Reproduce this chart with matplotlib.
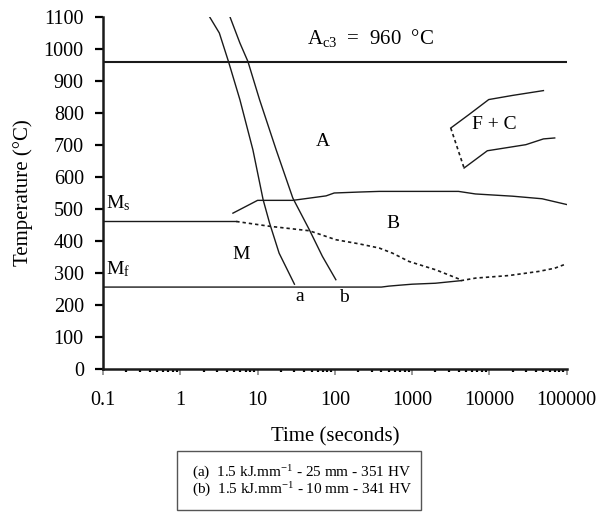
import numpy as np
import matplotlib.pyplot as plt
from matplotlib.patches import Rectangle
from matplotlib.ticker import FixedLocator, LogLocator, NullFormatter

plt.rcParams['font.family'] = ['Liberation Serif', 'DejaVu Serif']
plt.rcParams['mathtext.fontset'] = 'custom'
plt.rcParams['mathtext.rm'] = 'Liberation Serif'
plt.rcParams['mathtext.it'] = 'Liberation Serif:italic'

# cooling curves
a_t = [2.4, 3.2, 4.2, 5.9, 8.7, 11.8, 14.3, 19, 30]
a_T = [1100, 1050, 961, 842, 685, 529, 456, 362, 265]
b_t = [4.4, 5.9, 7.5, 10.6, 17.4, 28.6, 46.8, 69, 103]
b_T = [1100, 1019, 961, 842, 685, 534, 435, 352, 279]

# martensite start / finish
ms_t = [0.1, 5.3]
ms_T = [461, 461]
ms_dash_t = [5.3, 14.3, 46.8, 103, 207, 375, 557, 912, 2018, 4260]
ms_dash_T = [461, 446, 432, 404, 391, 378, 362, 336, 310, 279]
mf_t = [0.1, 400, 500, 700, 1000, 2000, 4260]
mf_T = [256, 256, 259, 262, 265, 268, 276]
mf_dash_t = [4260, 6600, 17800, 43600, 70000, 100000]
mf_dash_T = [276, 284, 292, 305, 315, 329]

# bainite start
bs_t = [4.8, 10, 28.6, 77, 98, 207, 375, 3980, 6600, 20000, 48000, 100000]
bs_T = [487, 527, 527, 541, 550, 553, 555, 555, 547, 540, 532, 514]

# ferrite + carbide
fc_up_t = [3160, 5430, 9800, 20000, 50000]
fc_up_T = [753, 795, 842, 855, 870]
fc_lo_t = [4700, 9400, 29600, 50000, 70000]
fc_lo_T = [628, 682, 701, 719, 722]
fc_dot_t = [3160, 4700]
fc_dot_T = [753, 628]

ac3 = 960
xticks = [0.1, 1, 10, 100, 1000, 10000, 100000]
xlabels = ['0.1', '1', '10', '100', '1000', '10000', '100000']
yticks = list(range(0, 1101, 100))
legend_lines = ['(a)  1.5 kJ.mm$^{-1}$ - 25 mm - 351 HV',
                '(b)  1.5 kJ.mm$^{-1}$ - 10 mm - 341 HV']

fig = plt.figure(figsize=(6.07, 5.15), dpi=100)
ax = fig.add_axes([0.1697, 0.2835, 0.7639, 0.6835])

k = dict(color='#1a1a1a', lw=1.0)
d = dict(color='#1a1a1a', lw=1.2, ls=(0, (2, 1.8)))
ax.axhline(ac3, color='#1a1a1a', lw=1.5)
ax.plot(a_t, a_T, **k)
ax.plot(b_t, b_T, **k)
ax.plot(ms_t, ms_T, **k)
ax.plot(ms_dash_t, ms_dash_T, **d)
ax.plot(mf_t, mf_T, **k)
ax.plot(mf_dash_t, mf_dash_T, **d)
ax.plot(bs_t, bs_T, **k)
ax.plot(fc_up_t, fc_up_T, **k)
ax.plot(fc_lo_t, fc_lo_T, **k)
ax.plot(fc_dot_t, fc_dot_T, **d)

ax.set_xscale('log')
ax.set_xlim(0.1, 100000)
ax.set_ylim(0, 1100)
ax.xaxis.set_major_locator(FixedLocator(xticks))
ax.set_xticklabels(xlabels)
ax.xaxis.set_minor_locator(LogLocator(base=10, subs=np.arange(2, 10)))
ax.xaxis.set_minor_formatter(NullFormatter())
ax.set_yticks(yticks)

for s in ['top', 'right']:
    ax.spines[s].set_visible(False)
for s in ['left', 'bottom']:
    ax.spines[s].set_linewidth(1.8)
    ax.spines[s].set_color('#1a1a1a')
ax.tick_params(axis='y', direction='out', length=5.8, width=1.6, labelsize=14.5, pad=8)
ax.tick_params(axis='x', which='major', direction='out', length=4, width=1.2,
               color='#888888', labelsize=14.5, pad=12)
ax.tick_params(axis='x', which='minor', direction='out', length=2.5, width=1.6)

ax.set_xlabel('Time (seconds)', fontsize=15, labelpad=12)
ax.set_ylabel('Temperature (°C)', fontsize=15, labelpad=8)

fs = 14
ax.text(43, 1000, r'A$_{\mathrm{c3}}$  =  960  °C', fontsize=15, ha='left', va='bottom')
ax.text(69, 711, 'A', fontsize=fs, ha='center', va='center')
ax.text(557, 454, 'B', fontsize=fs, ha='center', va='center')
ax.text(11500, 763, 'F + C', fontsize=fs, ha='center', va='center')
ax.text(6.2, 357, 'M', fontsize=fs, ha='center', va='center')
ax.text(0.108, 519, r'M$_{\mathrm{s}}$', fontsize=fs, ha='left', va='center')
ax.text(0.108, 312, r'M$_{\mathrm{f}}$', fontsize=fs, ha='left', va='center')
ax.text(34.7, 227, 'a', fontsize=fs, ha='center', va='center')
ax.text(132, 222, 'b', fontsize=fs, ha='center', va='center')

# legend box below the axes
fig.patches.append(Rectangle((0.2911, 0.0097), 0.4025, 0.1146, transform=fig.transFigure,
                             fc='white', ec='#555555', lw=1.0))
for i, line in enumerate(legend_lines):
    fig.text(0.3158, 0.0816 - i * 0.033, line, fontsize=11, ha='left', va='center')

fig.savefig('out.png', dpi=100)
